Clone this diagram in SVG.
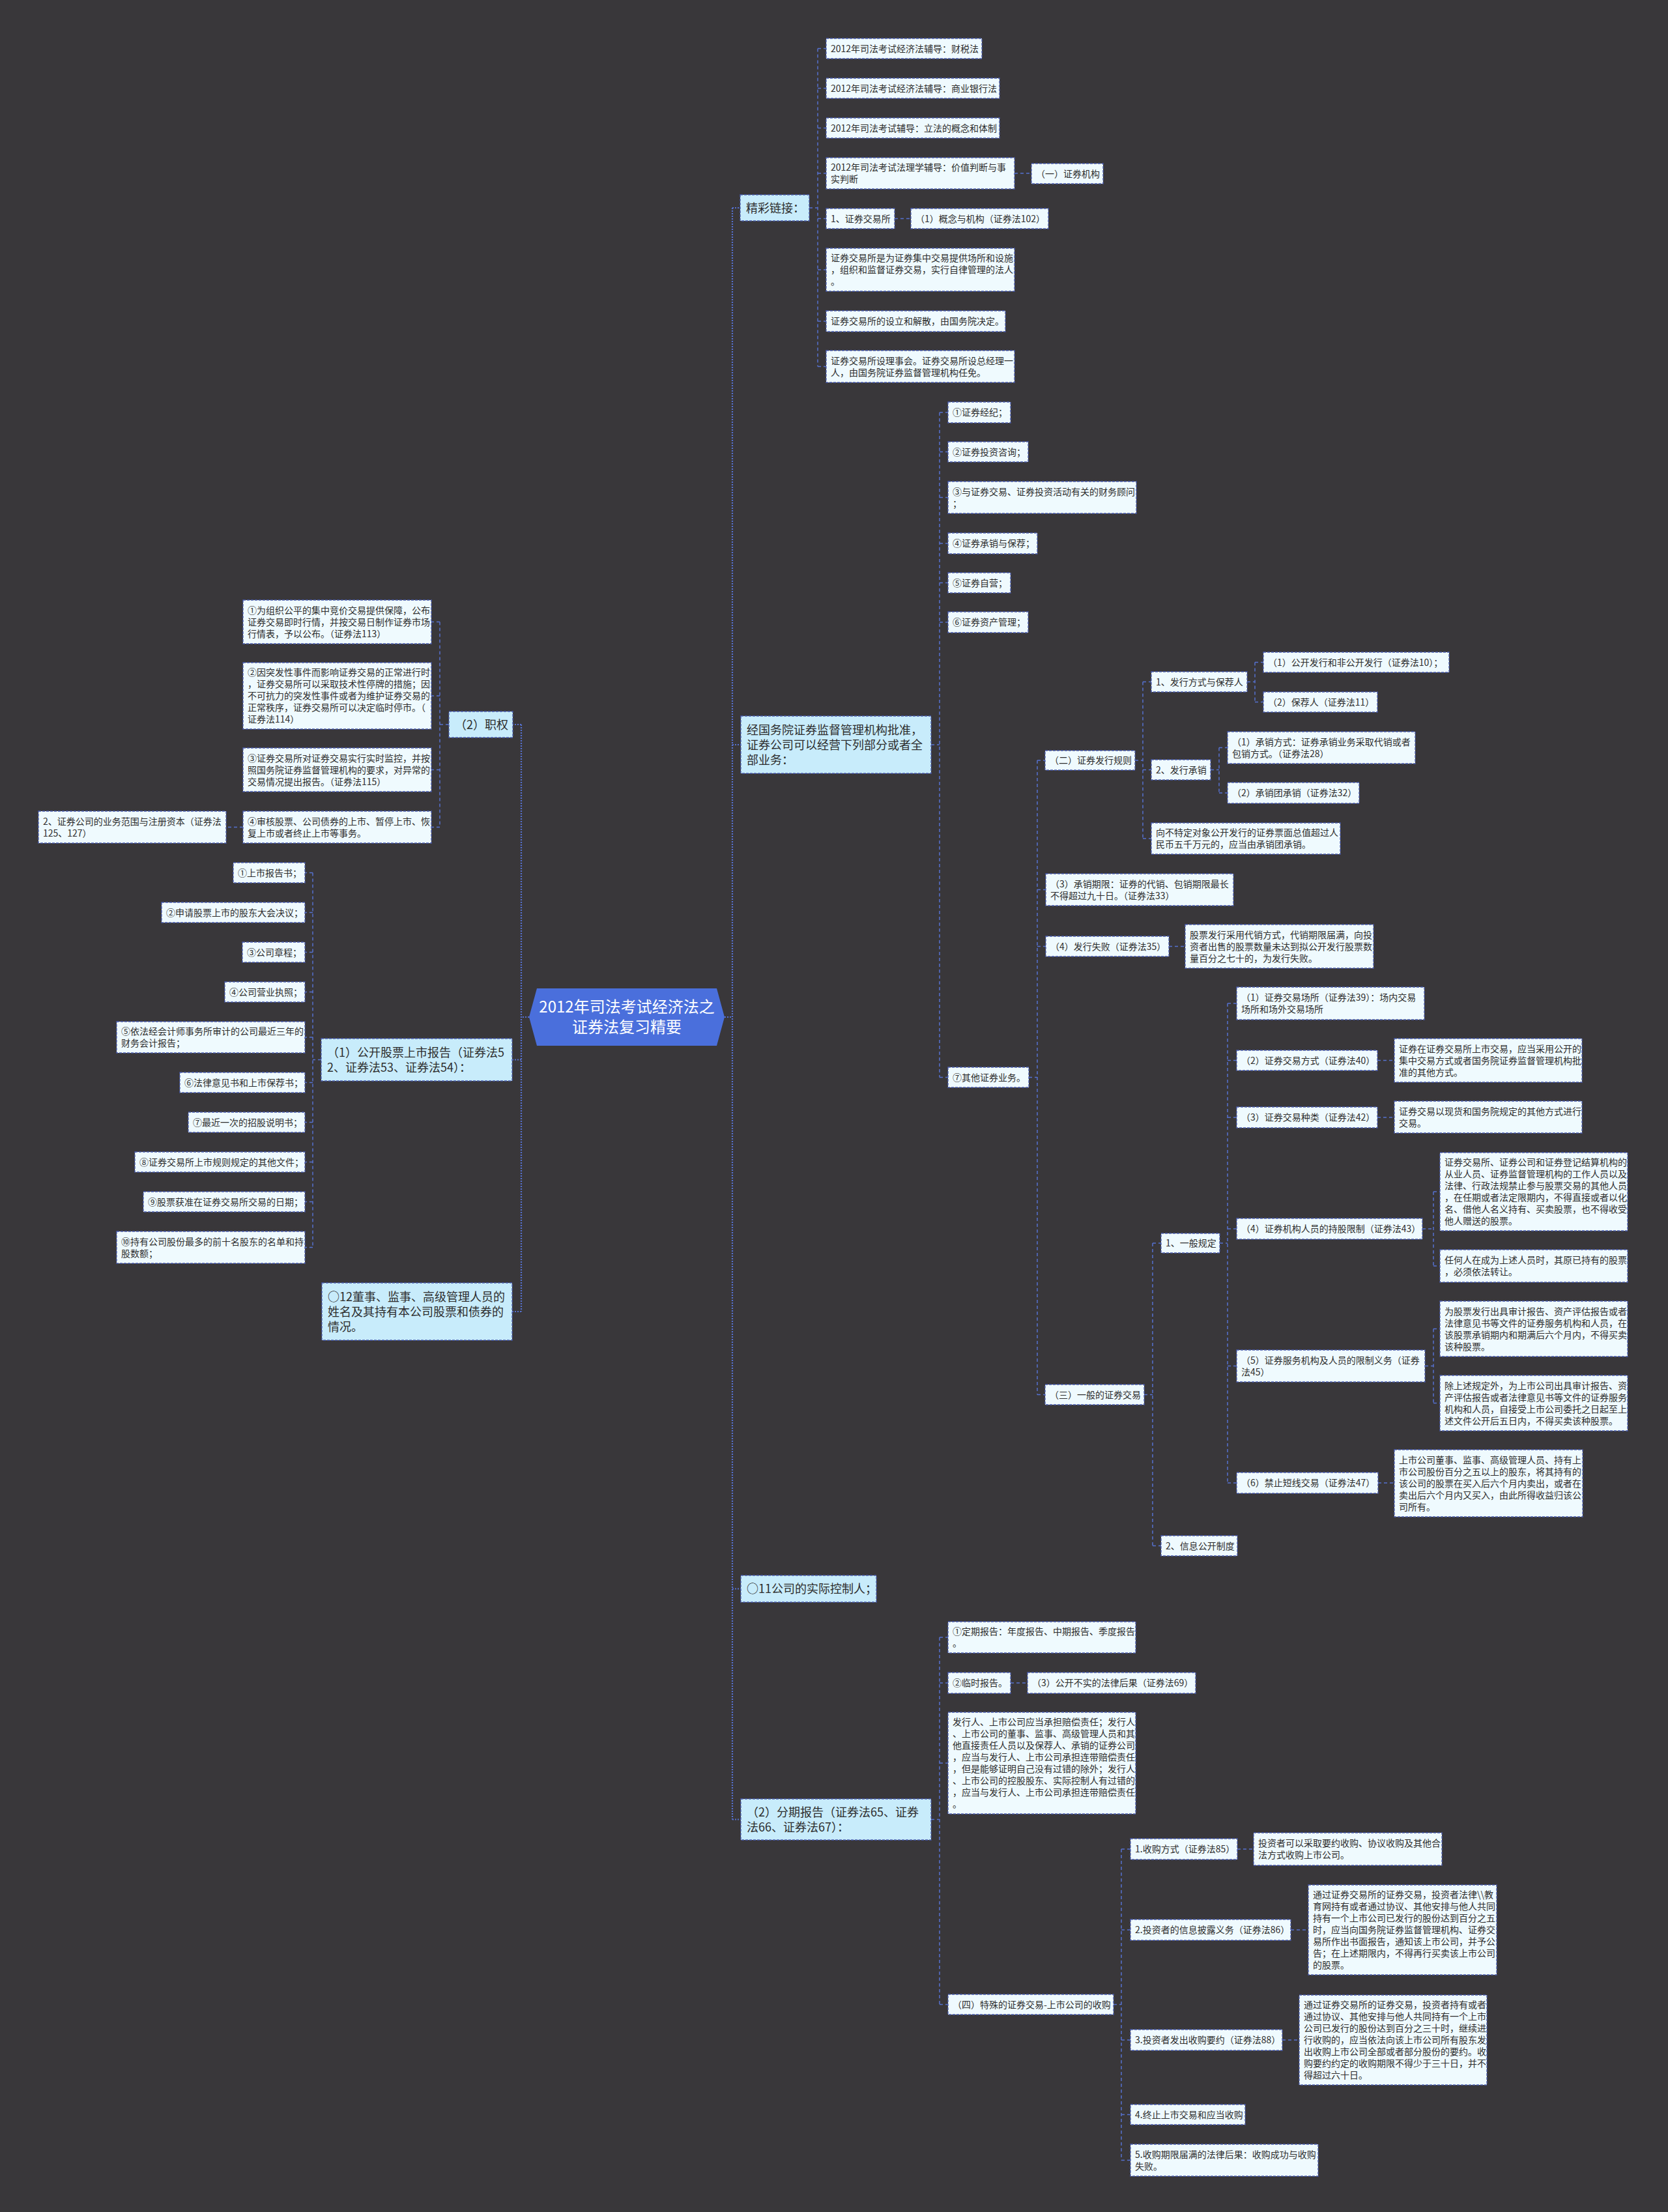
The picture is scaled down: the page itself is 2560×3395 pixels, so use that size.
<svg xmlns="http://www.w3.org/2000/svg" width="2560" height="3395" viewBox="0 0 2560 3395">
<style>
.n rect{fill:#effafe;stroke:#4a5cae;stroke-width:1.3;stroke-dasharray:4 2}
.m rect{fill:#c8ecfb;stroke:#4a5cae;stroke-width:1.3;stroke-dasharray:4 2}
.n text{font-family:"Noto Sans CJK SC","Noto Sans",sans-serif;font-size:14px;fill:#2d2d2d}
.m text{font-family:"Noto Sans CJK SC","Noto Sans",sans-serif;font-size:18px;fill:#2d2d2d}
.c{fill:none;stroke:#5671cf;stroke-width:1.5;stroke-dasharray:5 4}
.s{fill:none;stroke:#5671cf;stroke-width:2.2;stroke-dasharray:2 2}
.title text{font-family:"Noto Sans CJK SC","Noto Sans",sans-serif;font-size:24px;fill:#ffffff;text-anchor:middle}
</style>
<rect x="0" y="0" width="2560" height="3395" fill="#39373a"/>
<g id="connectors">
<path class="s" d="M1112,1561H1124 M1124,319V2792.5 M1124,319H1136 M1124,1143H1137 M1124,2438.5H1137 M1124,2792.5H1137 M812,1561H800 M800,1112V2013 M800,1112H787 M800,1626.5H786 M800,2013H786"/>
<path class="c" d="M1242,319H1255 M1255,74.5V562.5 M1255,74.5H1268 M1255,135.5H1268 M1255,196.5H1268 M1255,266H1268 M1255,335.5H1268 M1255,414H1268 M1255,493H1268 M1255,562.5H1268 M1557,266H1583 M1373,335.5H1398"/>
<path class="c" d="M1429,1143H1442 M1442,633V1653.5 M1442,633H1455 M1442,693.5H1455 M1442,763.5H1455 M1442,834H1455 M1442,894.5H1455 M1442,955H1455 M1442,1653.5H1455"/>
<path class="c" d="M1579,1653.5H1592 M1592,1167V2140.5 M1592,1167H1604 M1592,1365.5H1605 M1592,1452.5H1605 M1592,2140.5H1604"/>
<path class="c" d="M1742,1167H1754 M1754,1046.5V1287 M1754,1046.5H1767 M1754,1181.5H1767 M1754,1287H1767 M1914,1046.5H1926 M1926,1016.5V1077.5 M1926,1016.5H1939 M1926,1077.5H1939 M1858,1181.5H1871 M1871,1147.5V1217 M1871,1147.5H1884 M1871,1217H1884 M1794,1452.5H1819"/>
<path class="c" d="M1756,2140.5H1769 M1769,1908V2372.5 M1769,1908H1782 M1769,2372.5H1782 M1872,1908H1884 M1884,1540V2276 M1884,1540H1898 M1884,1627.5H1898 M1884,1715H1898 M1884,1886H1898 M1884,2096.5H1898 M1884,2276H1898 M2114,1627.5H2140 M2114,1715H2140 M2183,1886H2200 M2200,1829V1943 M2200,1829H2210 M2200,1943H2210 M2187,2096.5H2200 M2200,2039.5V2153.5 M2200,2039.5H2210 M2200,2153.5H2210 M2115,2276H2140"/>
<path class="c" d="M1429,2792.5H1442 M1442,2513V3076.5 M1442,2513H1455 M1442,2583H1455 M1442,2706H1455 M1442,3076.5H1455 M1551,2583H1577 M1709,3076.5H1721 M1721,2838V3315.5 M1721,2838H1735 M1721,2962H1735 M1721,3131H1735 M1721,3245.5H1735 M1721,3315.5H1735 M1899,2838H1924 M1981,2962H2008 M1968,3131H1994"/>
<path class="c" d="M689,1112H675 M675,954.5V1269.5 M675,954.5H662 M675,1068H662 M675,1181.5H662 M675,1269.5H662 M373,1269.5H347"/>
<path class="c" d="M493,1626.5H480 M480,1339.5V1914.5 M480,1339.5H468 M480,1400.5H468 M480,1461.5H468 M480,1522.5H468 M480,1592H468 M480,1661.5H468 M480,1722.5H468 M480,1783.5H468 M480,1844.5H468 M480,1914.5H468"/>
</g>
<g id="root" class="title">
<polygon points="812,1561 824,1517 1100,1517 1112,1561 1100,1605 824,1605" fill="#4a6fdc"/>
<text x="962" y="1554">2012年司法考试经济法之</text>
<text x="962" y="1585">证券法复习精要</text>
</g>
<g id="n-jclj" class="m"><rect x="1136" y="299" width="106" height="40"/><text x="1145" y="325.5">精彩链接：</text></g>
<g id="n-a1" class="n"><rect x="1268" y="59" width="239" height="31"/><text x="1275" y="79.5">2012年司法考试经济法辅导：财税法</text></g>
<g id="n-a2" class="n"><rect x="1268" y="120" width="266" height="31"/><text x="1275" y="140.5">2012年司法考试经济法辅导：商业银行法</text></g>
<g id="n-a3" class="n"><rect x="1268" y="181" width="266" height="31"/><text x="1275" y="201.5">2012年司法考试辅导：立法的概念和体制</text></g>
<g id="n-a4" class="n"><rect x="1268" y="242" width="289" height="48"/><text x="1275" y="262">2012年司法考试法理学辅导：价值判断与事<tspan x="1275" dy="18">实判断</tspan></text></g>
<g id="n-a4c" class="n"><rect x="1583" y="251" width="110" height="31"/><text x="1590" y="271.5">（一）证券机构</text></g>
<g id="n-a5" class="n"><rect x="1268" y="320" width="105" height="31"/><text x="1275" y="340.5">1、证券交易所</text></g>
<g id="n-a5c" class="n"><rect x="1398" y="320" width="211" height="31"/><text x="1405" y="340.5">（1）概念与机构（证券法102）</text></g>
<g id="n-a6" class="n"><rect x="1268" y="381" width="289" height="66"/><text x="1275" y="401">证券交易所是为证券集中交易提供场所和设施<tspan x="1275" dy="18">，组织和监督证券交易，实行自律管理的法人</tspan><tspan x="1275" dy="18">。</tspan></text></g>
<g id="n-a7" class="n"><rect x="1268" y="477" width="275" height="32"/><text x="1275" y="498">证券交易所的设立和解散，由国务院决定。</text></g>
<g id="n-a8" class="n"><rect x="1268" y="538" width="289" height="49"/><text x="1275" y="558.5">证券交易所设理事会。证券交易所设总经理一<tspan x="1275" dy="18">人，由国务院证券监督管理机构任免。</tspan></text></g>
<g id="n-yw" class="m"><rect x="1137" y="1099" width="292" height="88"/><text x="1146" y="1126.5">经国务院证券监督管理机构批准，<tspan x="1146" dy="23">证券公司可以经营下列部分或者全</tspan><tspan x="1146" dy="23">部业务：</tspan></text></g>
<g id="n-b1" class="n"><rect x="1455" y="617" width="96" height="32"/><text x="1462" y="638">①证券经纪；</text></g>
<g id="n-b2" class="n"><rect x="1455" y="678" width="123" height="31"/><text x="1462" y="698.5">②证券投资咨询；</text></g>
<g id="n-b3" class="n"><rect x="1455" y="739" width="289" height="49"/><text x="1462" y="759.5">③与证券交易、证券投资活动有关的财务顾问<tspan x="1462" dy="18">；</tspan></text></g>
<g id="n-b4" class="n"><rect x="1455" y="818" width="137" height="32"/><text x="1462" y="839">④证券承销与保荐；</text></g>
<g id="n-b5" class="n"><rect x="1455" y="879" width="96" height="31"/><text x="1462" y="899.5">⑤证券自营；</text></g>
<g id="n-b6" class="n"><rect x="1455" y="939" width="123" height="32"/><text x="1462" y="960">⑥证券资产管理；</text></g>
<g id="n-b7" class="n"><rect x="1455" y="1638" width="124" height="31"/><text x="1462" y="1658.5">⑦其他证券业务。</text></g>
<g id="n-c1" class="n"><rect x="1604" y="1152" width="138" height="30"/><text x="1611" y="1172">（二）证券发行规则</text></g>
<g id="n-c2" class="n"><rect x="1605" y="1341" width="288" height="49"/><text x="1612" y="1361.5">（3）承销期限：证券的代销、包销期限最长<tspan x="1612" dy="18">不得超过九十日。（证券法33）</tspan></text></g>
<g id="n-c3" class="n"><rect x="1605" y="1437" width="189" height="31"/><text x="1612" y="1457.5">（4）发行失败（证券法35）</text></g>
<g id="n-c3c" class="n"><rect x="1819" y="1419" width="289" height="67"/><text x="1826" y="1439.5">股票发行采用代销方式，代销期限届满，向投<tspan x="1826" dy="18">资者出售的股票数量未达到拟公开发行股票数</tspan><tspan x="1826" dy="18">量百分之七十的，为发行失败。</tspan></text></g>
<g id="n-c4" class="n"><rect x="1604" y="2125" width="152" height="31"/><text x="1611" y="2145.5">（三）一般的证券交易</text></g>
<g id="n-d1" class="n"><rect x="1767" y="1031" width="147" height="31"/><text x="1774" y="1051.5">1、发行方式与保荐人</text></g>
<g id="n-d1a" class="n"><rect x="1939" y="1001" width="285" height="31"/><text x="1946" y="1021.5">（1）公开发行和非公开发行（证券法10）；</text></g>
<g id="n-d1b" class="n"><rect x="1939" y="1062" width="175" height="31"/><text x="1946" y="1082.5">（2）保荐人（证券法11）</text></g>
<g id="n-d2" class="n"><rect x="1767" y="1166" width="91" height="31"/><text x="1774" y="1186.5">2、发行承销</text></g>
<g id="n-d2a" class="n"><rect x="1884" y="1123" width="288" height="49"/><text x="1891" y="1143.5">（1）承销方式：证券承销业务采取代销或者<tspan x="1891" dy="18">包销方式。（证券法28）</tspan></text></g>
<g id="n-d2b" class="n"><rect x="1884" y="1201" width="202" height="32"/><text x="1891" y="1222">（2）承销团承销（证券法32）</text></g>
<g id="n-d3" class="n"><rect x="1767" y="1263" width="290" height="48"/><text x="1774" y="1283">向不特定对象公开发行的证券票面总值超过人<tspan x="1774" dy="18">民币五千万元的，应当由承销团承销。</tspan></text></g>
<g id="n-e1" class="n"><rect x="1782" y="1893" width="90" height="30"/><text x="1789" y="1913">1、一般规定</text></g>
<g id="n-e2" class="n"><rect x="1782" y="2357" width="117" height="31"/><text x="1789" y="2377.5">2、信息公开制度</text></g>
<g id="n-f1" class="n"><rect x="1898" y="1515" width="288" height="50"/><text x="1905" y="1536">（1）证券交易场所（证券法39）：场内交易<tspan x="1905" dy="18">场所和场外交易场所</tspan></text></g>
<g id="n-f2" class="n"><rect x="1898" y="1612" width="216" height="31"/><text x="1905" y="1632.5">（2）证券交易方式（证券法40）</text></g>
<g id="n-f2c" class="n"><rect x="2140" y="1594" width="288" height="67"/><text x="2147" y="1614.5">证券在证券交易所上市交易，应当采用公开的<tspan x="2147" dy="18">集中交易方式或者国务院证券监督管理机构批</tspan><tspan x="2147" dy="18">准的其他方式。</tspan></text></g>
<g id="n-f3" class="n"><rect x="1898" y="1699" width="216" height="32"/><text x="1905" y="1720">（3）证券交易种类（证券法42）</text></g>
<g id="n-f3c" class="n"><rect x="2140" y="1690" width="288" height="49"/><text x="2147" y="1710.5">证券交易以现货和国务院规定的其他方式进行<tspan x="2147" dy="18">交易。</tspan></text></g>
<g id="n-f4" class="n"><rect x="1898" y="1870" width="285" height="32"/><text x="1905" y="1891">（4）证券机构人员的持股限制（证券法43）</text></g>
<g id="n-f4a" class="n"><rect x="2210" y="1769" width="288" height="120"/><text x="2217" y="1789">证券交易所、证券公司和证券登记结算机构的<tspan x="2217" dy="18">从业人员、证券监督管理机构的工作人员以及</tspan><tspan x="2217" dy="18">法律、行政法规禁止参与股票交易的其他人员</tspan><tspan x="2217" dy="18">，在任期或者法定限期内，不得直接或者以化</tspan><tspan x="2217" dy="18">名、借他人名义持有、买卖股票，也不得收受</tspan><tspan x="2217" dy="18">他人赠送的股票。</tspan></text></g>
<g id="n-f4b" class="n"><rect x="2210" y="1918" width="288" height="50"/><text x="2217" y="1939">任何人在成为上述人员时，其原已持有的股票<tspan x="2217" dy="18">，必须依法转让。</tspan></text></g>
<g id="n-f5" class="n"><rect x="1898" y="2072" width="289" height="49"/><text x="1905" y="2092.5">（5）证券服务机构及人员的限制义务（证券<tspan x="1905" dy="18">法45）</tspan></text></g>
<g id="n-f5a" class="n"><rect x="2210" y="1997" width="288" height="85"/><text x="2217" y="2017.5">为股票发行出具审计报告、资产评估报告或者<tspan x="2217" dy="18">法律意见书等文件的证券服务机构和人员，在</tspan><tspan x="2217" dy="18">该股票承销期内和期满后六个月内，不得买卖</tspan><tspan x="2217" dy="18">该种股票。</tspan></text></g>
<g id="n-f5b" class="n"><rect x="2210" y="2111" width="288" height="85"/><text x="2217" y="2131.5">除上述规定外，为上市公司出具审计报告、资<tspan x="2217" dy="18">产评估报告或者法律意见书等文件的证券服务</tspan><tspan x="2217" dy="18">机构和人员，自接受上市公司委托之日起至上</tspan><tspan x="2217" dy="18">述文件公开后五日内，不得买卖该种股票。</tspan></text></g>
<g id="n-f6" class="n"><rect x="1898" y="2260" width="217" height="32"/><text x="1905" y="2281">（6）禁止短线交易（证券法47）</text></g>
<g id="n-f6c" class="n"><rect x="2140" y="2225" width="289" height="103"/><text x="2147" y="2245.5">上市公司董事、监事、高级管理人员、持有上<tspan x="2147" dy="18">市公司股份百分之五以上的股东，将其持有的</tspan><tspan x="2147" dy="18">该公司的股票在买入后六个月内卖出，或者在</tspan><tspan x="2147" dy="18">卖出后六个月内又买入，由此所得收益归该公</tspan><tspan x="2147" dy="18">司所有。</tspan></text></g>
<g id="n-k11" class="m"><rect x="1137" y="2418" width="208" height="41"/><text x="1146" y="2445">○11公司的实际控制人；</text></g>
<g id="n-fq" class="m"><rect x="1137" y="2761" width="292" height="63"/><text x="1146" y="2787.5">（2）分期报告（证券法65、证券<tspan x="1146" dy="23">法66、证券法67）：</tspan></text></g>
<g id="n-g1" class="n"><rect x="1455" y="2489" width="288" height="48"/><text x="1462" y="2509">①定期报告：年度报告、中期报告、季度报告<tspan x="1462" dy="18">。</tspan></text></g>
<g id="n-g2" class="n"><rect x="1455" y="2567" width="96" height="32"/><text x="1462" y="2588">②临时报告。</text></g>
<g id="n-g2c" class="n"><rect x="1577" y="2567" width="258" height="32"/><text x="1584" y="2588">（3）公开不实的法律后果（证券法69）</text></g>
<g id="n-g3" class="n"><rect x="1455" y="2628" width="288" height="156"/><text x="1462" y="2648">发行人、上市公司应当承担赔偿责任；发行人<tspan x="1462" dy="18">、上市公司的董事、监事、高级管理人员和其</tspan><tspan x="1462" dy="18">他直接责任人员以及保荐人、承销的证券公司</tspan><tspan x="1462" dy="18">，应当与发行人、上市公司承担连带赔偿责任</tspan><tspan x="1462" dy="18">，但是能够证明自己没有过错的除外；发行人</tspan><tspan x="1462" dy="18">、上市公司的控股股东、实际控制人有过错的</tspan><tspan x="1462" dy="18">，应当与发行人、上市公司承担连带赔偿责任</tspan><tspan x="1462" dy="18">。</tspan></text></g>
<g id="n-g4" class="n"><rect x="1455" y="3061" width="254" height="31"/><text x="1462" y="3081.5">（四）特殊的证券交易-上市公司的收购</text></g>
<g id="n-h1" class="n"><rect x="1735" y="2822" width="164" height="32"/><text x="1742" y="2843">1.收购方式（证券法85）</text></g>
<g id="n-h1c" class="n"><rect x="1924" y="2813" width="289" height="50"/><text x="1931" y="2834">投资者可以采取要约收购、协议收购及其他合<tspan x="1931" dy="18">法方式收购上市公司。</tspan></text></g>
<g id="n-h2" class="n"><rect x="1735" y="2946" width="246" height="32"/><text x="1742" y="2967">2.投资者的信息披露义务（证券法86）</text></g>
<g id="n-h2c" class="n"><rect x="2008" y="2893" width="289" height="138"/><text x="2015" y="2913">通过证券交易所的证券交易，投资者法律\\教<tspan x="2015" dy="18">育网持有或者通过协议、其他安排与他人共同</tspan><tspan x="2015" dy="18">持有一个上市公司已发行的股份达到百分之五</tspan><tspan x="2015" dy="18">时，应当向国务院证券监督管理机构、证券交</tspan><tspan x="2015" dy="18">易所作出书面报告，通知该上市公司，并予公</tspan><tspan x="2015" dy="18">告；在上述期限内，不得再行买卖该上市公司</tspan><tspan x="2015" dy="18">的股票。</tspan></text></g>
<g id="n-h3" class="n"><rect x="1735" y="3115" width="233" height="32"/><text x="1742" y="3136">3.投资者发出收购要约（证券法88）</text></g>
<g id="n-h3c" class="n"><rect x="1994" y="3062" width="288" height="138"/><text x="2001" y="3082">通过证券交易所的证券交易，投资者持有或者<tspan x="2001" dy="18">通过协议、其他安排与他人共同持有一个上市</tspan><tspan x="2001" dy="18">公司已发行的股份达到百分之三十时，继续进</tspan><tspan x="2001" dy="18">行收购的，应当依法向该上市公司所有股东发</tspan><tspan x="2001" dy="18">出收购上市公司全部或者部分股份的要约。收</tspan><tspan x="2001" dy="18">购要约约定的收购期限不得少于三十日，并不</tspan><tspan x="2001" dy="18">得超过六十日。</tspan></text></g>
<g id="n-h4" class="n"><rect x="1735" y="3230" width="176" height="31"/><text x="1742" y="3250.5">4.终止上市交易和应当收购</text></g>
<g id="n-h5" class="n"><rect x="1735" y="3291" width="288" height="49"/><text x="1742" y="3311.5">5.收购期限届满的法律后果：收购成功与收购<tspan x="1742" dy="18">失败。</tspan></text></g>
<g id="n-zq" class="m"><rect x="689" y="1092" width="98" height="40"/><text x="698" y="1118.5">（2）职权</text></g>
<g id="n-i1" class="n"><rect x="373" y="921" width="289" height="67"/><text x="380" y="941.5">①为组织公平的集中竞价交易提供保障，公布<tspan x="380" dy="18">证券交易即时行情，并按交易日制作证券市场</tspan><tspan x="380" dy="18">行情表，予以公布。（证券法113）</tspan></text></g>
<g id="n-i2" class="n"><rect x="373" y="1017" width="289" height="102"/><text x="380" y="1037">②因突发性事件而影响证券交易的正常进行时<tspan x="380" dy="18">，证券交易所可以采取技术性停牌的措施；因</tspan><tspan x="380" dy="18">不可抗力的突发性事件或者为维护证券交易的</tspan><tspan x="380" dy="18">正常秩序，证券交易所可以决定临时停市。（</tspan><tspan x="380" dy="18">证券法114）</tspan></text></g>
<g id="n-i3" class="n"><rect x="373" y="1148" width="289" height="67"/><text x="380" y="1168.5">③证券交易所对证券交易实行实时监控，并按<tspan x="380" dy="18">照国务院证券监督管理机构的要求，对异常的</tspan><tspan x="380" dy="18">交易情况提出报告。（证券法115）</tspan></text></g>
<g id="n-i4" class="n"><rect x="373" y="1245" width="289" height="49"/><text x="380" y="1265.5">④审核股票、公司债券的上市、暂停上市、恢<tspan x="380" dy="18">复上市或者终止上市等事务。</tspan></text></g>
<g id="n-i4c" class="n"><rect x="59" y="1245" width="288" height="49"/><text x="66" y="1265.5">2、证券公司的业务范围与注册资本（证券法<tspan x="66" dy="18">125、127）</tspan></text></g>
<g id="n-ss" class="m"><rect x="493" y="1594" width="293" height="65"/><text x="502" y="1621.5">（1）公开股票上市报告（证券法5<tspan x="502" dy="23">2、证券法53、证券法54）：</tspan></text></g>
<g id="n-j1" class="n"><rect x="358" y="1324" width="110" height="31"/><text x="365" y="1344.5">①上市报告书；</text></g>
<g id="n-j2" class="n"><rect x="248" y="1385" width="220" height="31"/><text x="255" y="1405.5">②申请股票上市的股东大会决议；</text></g>
<g id="n-j3" class="n"><rect x="372" y="1446" width="96" height="31"/><text x="379" y="1466.5">③公司章程；</text></g>
<g id="n-j4" class="n"><rect x="345" y="1507" width="123" height="31"/><text x="352" y="1527.5">④公司营业执照；</text></g>
<g id="n-j5" class="n"><rect x="179" y="1568" width="289" height="48"/><text x="186" y="1588">⑤依法经会计师事务所审计的公司最近三年的<tspan x="186" dy="18">财务会计报告；</tspan></text></g>
<g id="n-j6" class="n"><rect x="276" y="1646" width="192" height="31"/><text x="283" y="1666.5">⑥法律意见书和上市保荐书；</text></g>
<g id="n-j7" class="n"><rect x="289" y="1707" width="179" height="31"/><text x="296" y="1727.5">⑦最近一次的招股说明书；</text></g>
<g id="n-j8" class="n"><rect x="207" y="1768" width="261" height="31"/><text x="214" y="1788.5">⑧证券交易所上市规则规定的其他文件；</text></g>
<g id="n-j9" class="n"><rect x="220" y="1829" width="248" height="31"/><text x="227" y="1849.5">⑨股票获准在证券交易所交易的日期；</text></g>
<g id="n-j10" class="n"><rect x="179" y="1890" width="289" height="49"/><text x="186" y="1910.5">⑩持有公司股份最多的前十名股东的名单和持<tspan x="186" dy="18">股数额；</tspan></text></g>
<g id="n-k12" class="m"><rect x="494" y="1969" width="292" height="88"/><text x="503" y="1996.5">○12董事、监事、高级管理人员的<tspan x="503" dy="23">姓名及其持有本公司股票和债券的</tspan><tspan x="503" dy="23">情况。</tspan></text></g>
</svg>
